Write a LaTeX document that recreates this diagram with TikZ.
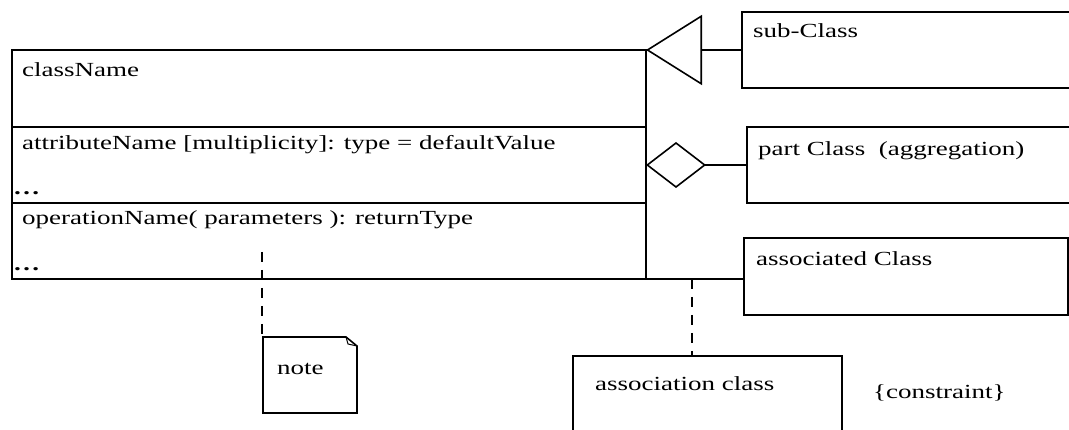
\documentclass[tikz,border=0pt]{standalone}
\usepackage{fontspec}
\setmainfont{Liberation Serif}
\newfontfamily\umlfont[FakeStretch=1.35]{Liberation Serif}
\usetikzlibrary{positioning,arrows.meta}

\begin{document}
\begin{tikzpicture}[x=1pt,y=-1pt,
  box/.style={draw,line width=2.2pt,rectangle,inner sep=0pt,outer sep=0pt},
  txt/.style={anchor=base west,inner sep=0pt,font=\umlfont\fontsize{20}{24}\selectfont},
  link/.style={line width=2.2pt,dash pattern=on 10pt off 8pt},
  ]
  \useasboundingbox (0,0) rectangle (1069,430);

  %CLASS COMPARTMENTS
  \node[box,minimum width=634pt,minimum height=77pt,anchor=north west] (name) at (12,50) {};
  \node[box,minimum width=634pt,minimum height=76pt,below=0pt of name] (attrs) {};
  \node[box,minimum width=634pt,minimum height=76pt,below=0pt of attrs] (ops) {};
  \node[txt] (nametxt) at (22,77) {className};
  \node[txt] (attrtxt) at (22,150) {attributeName [multiplicity]: type = defaultValue};
  \node[txt] (attrdots) at (13,195) {\textbf{…}};
  \node[txt] (optxt) at (22,225) {operationName( parameters ): returnType};
  \node[txt] (opdots) at (13,271) {\textbf{…}};

  %RELATED CLASSES
  \node[box,minimum width=338pt,minimum height=76pt,anchor=north west] (sub) at (742,12) {};
  \node[box,minimum width=338pt,minimum height=76pt,anchor=north west] (part) at (747,127) {};
  \node[box,minimum width=324pt,minimum height=77pt,anchor=north west] (assoc) at (744,238) {};
  \node[box,minimum width=269pt,minimum height=90pt,anchor=north west] (aclass) at (573,356) {};
  \node[txt] (subtxt) at (753,38) {sub-Class};
  \node[txt] (parttxt) at (758,156) {part Class\ \ (aggregation)};
  \node[txt] (assoctxt) at (756,266) {associated Class};
  \node[txt] (aclasstxt) at (595,391) {association class};
  \node[txt] (constr) at (873,399) {\{constraint\}};

  %NOTE
  \node[minimum width=94pt,minimum height=76pt,inner sep=0pt,outer sep=0pt,anchor=north west] (note) at (263,337) {};
  \draw[line width=1.6pt] (note.south west) -- (note.north west) -- ([xshift=-11pt]note.north east)
    -- ([yshift=-9pt]note.north east) -- (note.south east) -- cycle;
  \draw[line width=1pt] ([xshift=-11pt]note.north east) -- ([xshift=-9pt,yshift=-7pt]note.north east)
    -- ([yshift=-9pt]note.north east);
  \node[txt] (notetxt) at (277,375) {note};

  %CONNECTORS
  \draw[line width=2.2pt,-{Triangle[open,length=56pt,width=70pt,line width=1.6pt]}] (sub.west) -- (name.north east);
  \draw[line width=2.2pt,-{Diamond[open,length=60pt,width=46pt,line width=1.6pt]}] (part.west) -- (attrs.east);
  \draw[line width=2.2pt] (ops.south east) -- (ops.south east -| assoc.west);
  \coordinate (mid) at (692,279);
  \draw[link] (mid) -- (mid |- aclass.north);
  \coordinate (pin) at (262,252);
  \draw[link] (pin) -- (pin |- note.north);
\end{tikzpicture}
\end{document}
